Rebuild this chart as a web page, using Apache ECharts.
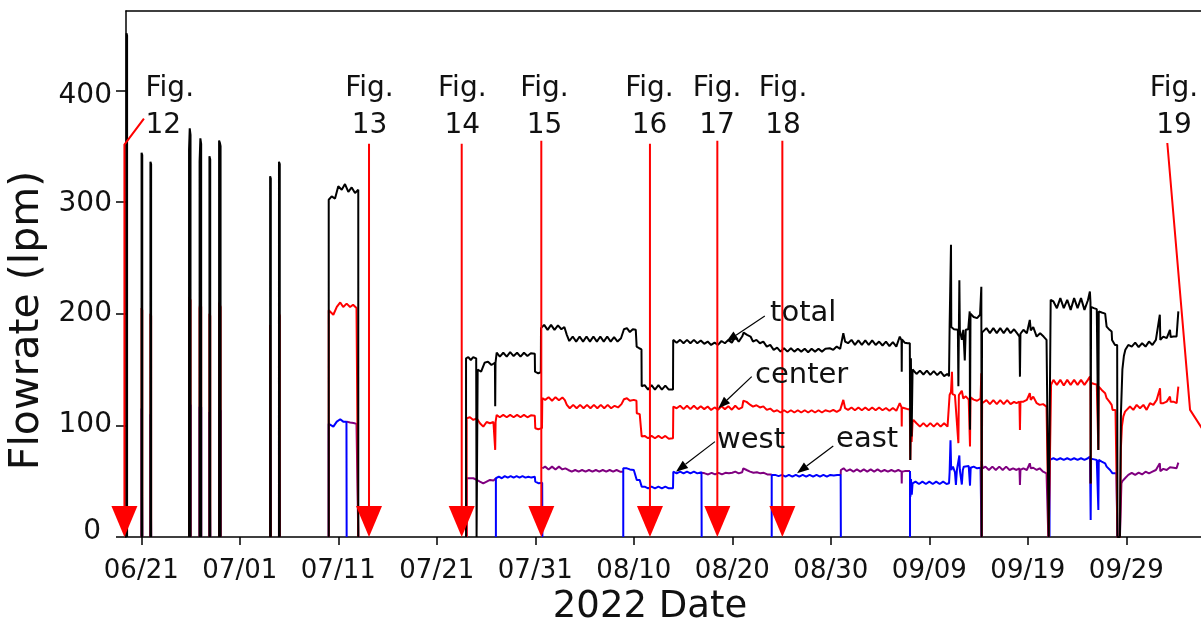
<!DOCTYPE html>
<html><head><meta charset="utf-8">
<script src="https://cdn.jsdelivr.net/npm/echarts@6/dist/echarts.min.js"></script>
<style>html,body{margin:0;padding:0;background:#fff}#chart{width:1201px;height:626px}</style>
</head><body><div id="chart"></div>
<script>
// x values are day-of-year 2022 (06/21 = 172)
const xTickDays = [172,182,192,202,212,222,232,242,252,262,272];
const xTickLabels = ['06/21','07/01','07/11','07/21','07/31','08/10','08/20','08/30','09/09','09/19','09/29'];
const yTicks = [0,100,200,300,400];

const totalFlow = [
  [170.5,0],[170.5,451],[170.56,449],[170.56,0],[170.6,null],
  [172.03,0],[172.03,344],[172.1,342],[172.1,0],[172.2,null],
  [172.93,0],[172.93,336],[173.0,334],[173.0,0],[173.1,null],
  [176.85,0],[176.85,347],[176.92,366],[177.0,360],[177.0,0],[177.1,null],
  [177.92,0],[177.92,336],[178.0,357],[178.08,352],[178.08,0],[178.2,null],
  [178.92,0],[178.92,341],[179.0,338],[179.0,0],[179.1,null],
  [179.9,0],[179.9,355],[179.98,353],[180.05,350],[180.05,0],[180.2,null],
  [185.08,0],[185.08,323],[185.15,321],[185.15,0],[185.3,null],
  [185.98,0],[185.98,336],[186.06,334],[186.06,0],[186.2,null],
  [191.03,0],[191.03,302],[191.33,305],[191.67,303],[192.0,314],[192.35,311],[192.68,316],[193.02,309],[193.36,313],[193.7,308],[194.03,311],[194.03,0],[194.1,null],
  [204.97,0],[204.97,160],[205.2,161],[205.45,158.5],[205.7,161],[206.0,160],[206.04,0],[206.12,0],[206.15,150],[206.5,148],[206.85,156],[207.2,157],[207.55,154],[207.9,156],[207.93,117],[207.96,156],
  [208.08,165],[208.4,161.5],[208.75,165],[209.1,161.5],[209.45,165.5],[209.8,162],[210.15,165],[210.5,161.5],[210.85,165],[211.2,162],[211.55,164.5],[211.95,164],
  [211.97,148],[212.3,146.6],[212.56,147.5],[212.58,187],[212.9,190],[213.25,185.5],[213.6,190],[213.95,185.5],[214.3,189.5],[214.65,186],[214.95,188],
  [215.2,181],[215.45,175.5],[215.8,179.5],[216.15,175],[216.5,179.5],[216.85,175],[217.2,179.5],[217.55,175],[217.9,179.5],[218.25,175],[218.6,179.5],[218.95,175],[219.3,179.5],[219.65,175],[220.0,179],[220.35,175],[220.7,178],
  [221.0,186],[221.3,187],[221.6,183.5],[221.9,186],[222.2,185.5],[222.29,170.5],[222.55,169],[222.78,168],
  [222.8,135],[223.1,136],[223.45,132],[223.8,136],[224.15,132],[224.5,136],[224.85,132],[225.2,135.5],[225.55,132],[225.98,132],
  [226.0,176.5],[226.35,174],[226.7,176.5],[227.05,173.5],[227.4,176.5],[227.75,173.5],[228.1,176.5],[228.45,173.5],[228.8,176],[229.15,173],[229.5,175],[229.85,172],[230.2,174],[230.55,172],[230.9,175.5],[231.25,173.5],[231.6,176.5],[231.95,174],[232.3,179],[232.65,175],[233.0,179.5],[233.15,183],[233.5,181],[233.85,179.5],[234.1,175],[234.45,176.5],[234.8,173.5],[235.15,175],[235.5,170.5],[235.85,172],
  [236.2,167.6],[236.55,169.5],[236.9,166],[237.25,169],[237.6,166],[237.95,169],[238.3,166],[238.65,168.5],[239.0,166],[239.35,168.5],[239.7,165.5],[240.05,168.5],[240.4,166],[240.75,168.5],[241.1,166],[241.45,168.5],[241.9,169],[242.25,167.6],[242.6,170.5],[242.95,168.5],
  [243.27,182.5],[243.45,175],[243.75,173.5],[244.1,176.5],[244.45,172],[244.8,176],[245.15,172],[245.5,176],[245.85,172],[246.2,176],[246.55,172],[246.9,175],[247.25,171.5],[247.6,175],[247.95,171],[248.3,174.5],[248.65,170.5],[249.0,179.5],[249.18,176],[249.2,148],[249.22,177],[249.5,174],[249.8,173.5],[250.02,173.5],
  [250.07,69],[250.13,160],[250.2,90],[250.3,150],[250.38,149.6],[250.7,146],[251.05,149],[251.4,145.5],[251.75,149],[252.1,145.2],[252.45,148.5],[252.8,145],[253.15,148],[253.5,144],[253.85,146],[254.0,144],
  [254.06,188],[254.18,188],[254.2,261.6],[254.23,188],[254.5,186],[254.9,185.5],[254.95,135],[255.0,185],[255.05,230],[255.1,185],[255.3,176.5],[255.45,185.5],[255.6,158],[255.7,185.5],[255.95,186],[256.1,202],[256.13,96],[256.18,200],[256.5,197],[256.85,196],[257.15,199],[257.28,224],[257.31,0],
  [257.35,183],[257.5,182.5],[257.8,187],[258.15,182.5],[258.5,187],[258.85,182.5],[259.2,187],[259.55,182.5],[259.9,187],[260.25,182.5],[260.6,186],[260.9,182.5],[261.15,179.5],[261.2,143.6],[261.25,182],[261.55,185.5],[261.9,182.5],[262.2,194.4],[262.3,185],[262.55,188],[262.9,179.5],[263.25,182.5],[263.6,179.5],[263.9,176.5],[264.08,176],[264.12,0],[264.28,0],
  [264.32,212.4],[264.6,210.9],[264.95,204.9],[265.3,213.9],[265.65,204.9],[266.0,212.4],[266.35,203.4],[266.7,213.9],[267.05,204.9],[267.4,213.9],[267.75,203.4],[268.1,212],[268.3,219.8],[268.36,210],[268.38,48],[268.42,206],[268.7,205],[269.0,204],[269.14,203],[269.16,78],[269.2,202],[269.5,201],[269.85,200],
  [270.0,188.4],[270.3,185.5],[270.51,184],[270.55,176.5],[270.85,172],[271.07,172],[271.1,0],[271.35,0],
  [271.45,110],[271.6,150],[271.75,162],[271.9,167.6],[272.2,172],[272.55,170.5],[272.9,174],[273.25,170],[273.6,173.5],[273.95,170.5],[274.3,175],[274.65,172],[275.0,176.5],[275.4,199],[275.45,176.5],[275.75,179.5],[276.1,178],[276.43,185.5],[276.5,179],[276.8,179.5],[277.1,179.5],[277.28,202]
];

const centerFlow = [
  [172.03,0],[172.03,205],[172.1,203],[172.1,0],[172.2,null],
  [172.93,0],[172.93,200],[173.0,198],[173.0,0],[173.1,null],
  [176.85,0],[176.85,215],[176.92,214],[177.0,212],[177.0,0],[177.1,null],
  [177.92,0],[177.92,205],[178.0,210],[178.08,206],[178.08,0],[178.2,null],
  [178.92,0],[178.92,200],[179.0,198],[179.0,0],[179.1,null],
  [179.9,0],[179.9,210],[179.98,208],[180.05,206],[180.05,0],[180.2,null],
  [185.08,0],[185.08,190],[185.15,189],[185.15,0],[185.3,null],
  [185.98,0],[185.98,200],[186.06,198],[186.06,0],[186.2,null],
  [191.03,0],[191.03,203],[191.5,199],[191.85,206],[192.2,210],[192.5,206],[192.85,209],[193.2,206],[193.5,208],[193.85,205],[194.03,206],[194.03,0],[194.1,null],
  [205.03,0],[205.03,106.3],[205.37,107.2],[205.71,104.8],[206.05,106.3],[206.38,101.9],[206.72,98.8],[207.06,103],[207.4,101.9],[207.75,103],[207.93,78],[207.97,103],
  [208.08,109.3],[208.4,107.2],[208.75,109.3],[209.1,107.2],[209.45,109.3],[209.8,107.2],[210.15,109.3],[210.5,107.2],[210.85,109.3],[211.2,107.2],[211.55,109],[211.95,108.5],
  [212.0,97.4],[212.3,96.5],[212.68,97.5],[212.71,124.3],[213.0,122.8],[213.35,125.2],[213.7,122],[214.05,125.2],[214.4,122.5],[214.75,125],[215.0,122.5],
  [215.2,118.3],[215.5,115.3],[215.85,118.3],[216.2,115.3],[216.55,118.3],[216.9,115.3],[217.25,118.3],[217.6,115.3],[217.95,118.3],[218.3,115.3],[218.65,118.3],[219.0,115.3],[219.35,118.3],[219.7,115.3],[220.05,117.5],[220.4,116],[220.75,119],
  [221.0,123.4],[221.3,124.3],[221.6,122],[222.0,122.8],[222.27,122],[222.3,110.8],[222.6,110],[222.78,110],
  [222.8,90],[223.1,90.5],[223.45,88.4],[223.8,90.5],[224.15,88.4],[224.5,90.5],[224.85,88.4],[225.2,90.5],[225.55,88],[225.98,88.4],
  [226.01,116.8],[226.35,115.3],[226.7,117.5],[227.05,114.5],[227.4,117.5],[227.75,114.5],[228.1,117.5],[228.45,114.5],[228.8,117],[229.15,114.5],[229.5,116.8],[229.85,113.8],[230.2,116],[230.55,114],[230.9,117],[231.25,114.5],[231.6,117],[231.95,114],[232.3,117.5],[232.65,114.5],[233.0,116],
  [233.12,122],[233.45,121],[233.8,118.5],[234.1,116.8],[234.45,118],[234.8,116],[235.15,117],[235.5,113.8],[235.85,115],
  [236.2,112.3],[236.55,113.5],[236.9,111.5],[237.25,113.5],[237.6,111.5],[237.95,113.5],[238.3,111.5],[238.65,113.5],[239.0,111.5],[239.35,113.5],[239.7,111.5],[240.05,113.5],[240.4,111.5],[240.75,113.5],[241.1,111.5],[241.45,113.5],[241.9,112.3],[242.25,113.8],[242.6,112],[242.95,113.8],
  [243.27,122.8],[243.45,115.3],[243.75,113.8],[244.1,116],[244.45,113.5],[244.8,116],[245.15,113.5],[245.5,116],[245.85,113.5],[246.2,116],[246.55,113.5],[246.9,116],[247.25,113.5],[247.6,115.5],[247.95,113],[248.3,115.5],[248.65,113],[249.0,119.8],[249.18,116],[249.2,99],[249.22,116],[249.5,115.3],[249.8,114.5],[250.02,114.5],
  [250.07,69],[250.13,104.8],[250.2,85],[250.3,103],[250.38,104.8],[250.7,101.9],[251.05,98.8],[251.4,102],[251.75,98.8],[252.1,102],[252.45,98.8],[252.8,102],[253.15,98.8],[253.5,101.9],[253.85,98.8],[254.0,98.8],
  [254.06,127.2],[254.2,130],[254.3,148],[254.35,128],[254.6,127],[254.95,84],[255.0,127],[255.3,131],[255.45,124],[255.7,126],[256.0,123],[256.13,81],[256.18,125],[256.5,123],[256.85,122],[257.2,124],[257.28,146.6],[257.31,0],
  [257.36,119.8],[257.5,120],[257.8,122.5],[258.15,119],[258.5,122.5],[258.85,119],[259.2,122.5],[259.55,119],[259.9,122.5],[260.25,119],[260.6,121],[260.85,119.8],[261.15,121.2],[261.2,95.9],[261.25,121],[261.55,121.2],[261.9,122.8],[262.2,128.8],[262.3,122.8],[262.55,125.7],[262.9,119.8],[263.2,118.3],[263.55,119],[263.9,116.8],[264.08,116.8],[264.12,0],[264.3,0],
  [264.36,136.2],[264.6,140.7],[264.95,136.2],[265.3,140.7],[265.65,135.6],[266.0,140.7],[266.35,136.2],[266.7,140.7],[267.05,136.2],[267.4,140.7],[267.75,136.2],[268.1,140.7],[268.31,143.6],[268.36,140],[268.38,48],[268.42,138],[268.75,137],[269.0,136.5],[269.14,136],[269.16,78],[269.2,134.5],[269.5,131.7],[269.85,128.8],
  [270.0,124.3],[270.3,121],[270.51,118.3],[270.6,113.8],[270.9,113.8],[271.07,113.8],[271.1,0],[271.35,0],
  [271.45,80],[271.55,99],[271.7,108],[271.87,112.3],[272.03,112.3],[272.37,116.8],[272.71,113.8],[273.05,118.3],[273.39,115.3],[273.73,118.3],[274.06,113.8],[274.4,119.8],[274.74,118.3],[275.08,122.8],[275.42,133.2],[275.48,119.8],[275.76,119.8],[276.1,121.2],[276.43,125.7],[276.5,121],[276.77,121.2],[277.11,119.8],[277.28,134.7]
];

const westFlow = [
  [172.03,0],[172.03,115],[172.1,114],[172.1,0],[172.2,null],
  [172.93,0],[172.93,110],[173.0,109],[173.0,0],[173.1,null],
  [176.85,0],[176.85,120],[176.92,119],[177.0,118],[177.0,0],[177.1,null],
  [177.92,0],[177.92,116],[178.0,118],[178.08,116],[178.08,0],[178.2,null],
  [178.92,0],[178.92,112],[179.0,111],[179.0,0],[179.1,null],
  [179.9,0],[179.9,115],[179.98,114],[180.05,113],[180.05,0],[180.2,null],
  [185.08,0],[185.08,105],[185.15,104],[185.15,0],[185.3,null],
  [185.98,0],[185.98,110],[186.06,109],[186.06,0],[186.2,null],
  [191.03,0],[191.03,101.3],[191.5,98.8],[191.85,103.3],[192.2,105.4],[192.5,103.3],[192.83,103.3],[192.85,0],[192.9,null],
  [208.0,0],[208.0,52.6],[208.3,54],[208.6,52.6],[208.9,54.5],[209.2,53.2],[209.5,54.5],[209.8,53.2],[210.1,54.5],[210.4,53.2],[210.7,54.5],[211.0,53.2],[211.3,54],[211.6,53.2],[211.95,54],[212.0,49.6],[212.35,48.1],[212.7,48.5],[212.72,0],[212.8,null],
  [220.93,0],[220.93,61.5],[221.3,61.5],[221.6,60.5],[222.0,60],[222.3,51.1],[222.6,51],[222.8,45.1],[223.1,45.1],[223.45,43.6],[223.8,45.1],[224.15,43.6],[224.5,45.1],[224.85,43.6],[225.2,45.1],[225.55,43.6],[225.98,43.6],
  [226.01,58.5],[226.35,57],[226.7,58.5],[227.05,57],[227.4,58.5],[227.75,57],[228.1,58.5],[228.45,57],[228.87,58],[228.89,0],[229.0,null],
  [236.0,0],[236.0,55.6],[236.35,55.6],[236.7,54.5],[237.05,55.6],[237.4,54],[237.75,55.6],[238.1,54],[238.45,55.6],[238.8,54],[239.15,55.6],[239.5,54],[239.85,55.6],[240.2,54],[240.55,55.6],[240.9,54],[241.25,55.6],[241.6,54],[241.95,55.6],[242.3,55],[242.65,55.6],[243.0,55.6],[243.02,0],[243.1,null],
  [250.04,0],[250.04,59],[250.08,36],[250.14,52],[250.22,38],[250.3,48.1],[250.6,49.6],[250.95,47.5],[251.3,49.6],[251.65,47.5],[252.0,49.6],[252.35,47.5],[252.7,49.6],[253.05,47.5],[253.4,49.6],[253.75,47.5],[254.0,48.1],
  [254.06,58],[254.15,86.6],[254.22,60],[254.4,63],[254.6,58],[254.7,46.6],[254.8,60],[255.05,73],[255.1,60],[255.3,47],[255.4,60],[255.5,63],[255.7,62],[256.0,63.5],[256.13,46],[256.2,62],[256.5,63],[256.85,61.5],[257.2,62],[257.3,0],[257.35,null],
  [264.2,0],[264.22,69],[264.6,70.5],[264.95,69],[265.3,70.5],[265.65,69],[266.0,70.5],[266.35,69],[266.7,70.5],[267.05,69],[267.4,70.5],[267.75,69],[268.1,70.5],[268.31,72],[268.36,72],[268.38,15.2],[268.42,70],[268.75,69.5],[269.0,69],[269.14,69],[269.16,24.2],[269.2,69],[269.5,67.5],[269.85,66],
  [270.0,63],[270.35,60],[270.6,57],[271.0,57],[271.07,57],[271.09,0]
];

const eastFlow = [
  [192.85,103.3],[193.2,102.5],[193.55,102],[193.85,101.3],[194.03,101.3],[194.03,0],[194.1,null],
  [205.03,0],[205.03,52.6],[205.37,52.6],[205.71,52.6],[206.05,51.1],[206.38,49.6],[206.72,48.1],[207.06,49.6],[207.4,51.1],[207.75,50.5],[208.0,52.6],[208.05,null],
  [212.71,61.5],[213.0,63],[213.35,60.5],[213.7,63],[214.05,60.5],[214.4,63],[214.75,60.5],[215.05,61.5],[215.35,60],[215.7,58.5],[216.05,60],[216.4,58.5],[216.75,60],[217.1,58.5],[217.45,60],[217.8,58.5],[218.15,60],[218.5,58.5],[218.85,60],[219.2,58.5],[219.55,60],[219.9,58.5],[220.25,60],[220.6,58.5],[220.93,58.5],[221.0,null],
  [228.89,57.5],[229.2,57],[229.55,56],[229.9,57.5],[230.25,56],[230.6,57.5],[230.95,56],[231.3,57.5],[231.65,57],[232.0,57.5],[232.3,58.5],[232.65,57],[233.0,58],[233.12,61.5],[233.45,60],[233.8,58.5],[234.15,57.5],[234.5,58],[234.85,57],[235.2,57.5],[235.55,56],[236.0,56],[236.05,null],
  [243.0,55.6],[243.02,60],[243.3,61.5],[243.6,59],[243.95,60.5],[244.3,58.5],[244.65,60.5],[245.0,58.5],[245.35,60.5],[245.7,58.5],[246.05,60.5],[246.4,58.5],[246.75,60.5],[247.1,58.5],[247.45,60],[247.8,58.5],[248.15,60],[248.5,58.5],[248.85,60],[249.18,58.5],[249.2,48],[249.22,58.5],[249.5,59],[249.8,59],[250.04,59],[250.1,null],
  [257.32,0],[257.32,68],[257.4,61.5],[257.7,63],[258.05,60],[258.4,63],[258.75,60],[259.1,63],[259.45,60],[259.8,63],[260.15,60],[260.5,61.5],[260.85,60],[261.15,61.5],[261.2,46.6],[261.25,60],[261.55,61.5],[261.9,60],[262.2,66],[262.3,61.5],[262.55,62],[262.9,60],[263.2,61.5],[263.55,58.5],[263.9,57],[264.08,57],[264.08,0],[264.15,null],
  [271.35,0],[271.5,48],[271.6,50],[271.87,52.6],[272.2,55.6],[272.55,57.5],[272.9,55.6],[273.25,57.7],[273.6,56],[273.95,58.5],[274.3,57],[274.65,58.5],[275.0,60],[275.4,66],[275.45,59],[275.75,61],[276.1,60],[276.43,62.5],[276.5,61],[276.8,62],[277.1,61.5],[277.28,66.6]
];

// "Fig. N" annotations: label anchor (day, value), arrow path ending at the arrow tip
const figNames = ['12','13','14','15','16','17','18','19'];
const figLabelDays = [172.43,195.17,204.59,212.93,223.59,230.45,237.15,276.84];
const figLabelValue = 385;
const figAlign = ['left','center','center','center','center','center','center','center'];
const figPaths = [
  [[172.27,374.6],[170.29,351.3],[170.29,0]],
  [[195.12,352.2],[195.12,0]],
  [[204.53,352.2],[204.53,0]],
  [[212.61,354.8],[212.61,0]],
  [[223.64,352.2],[223.64,0]],
  [[230.48,354.8],[230.48,0]],
  [[237.08,354.8],[237.08,0]],
  [[276.16,352.8],[278.47,113.8],[286.8,0]]
];

// zone labels with black arrows
const zoneNames = ['total','center','west','east'];
const zoneTextPos = [[235.83,200.5],[234.3,145],[230.45,86.7],[242.53,87.6]];
const zoneArrowTail = [[235.3,198],[233.97,143.6],[230.24,85.4],[242.25,81.5]];
const zoneArrowTip = [[231.36,174.7],[230.58,115.3],[226.28,58.5],[238.57,57.1]];

const FONT = '"DejaVu Sans", Verdana, sans-serif';
const X_MIN = 170.45, X_MAX = 279.58, Y_MAX = 471;

function arrowParts(pts, headLen, headHalf) {
  const n = pts.length, tip = pts[n-1], prev = pts[n-2];
  const dx = tip[0]-prev[0], dy = tip[1]-prev[1];
  const L = Math.hypot(dx, dy) || 1, ux = dx/L, uy = dy/L;
  const base = [tip[0]-ux*headLen, tip[1]-uy*headLen];
  const left = [base[0]-uy*headHalf, base[1]+ux*headHalf];
  const right = [base[0]+uy*headHalf, base[1]-ux*headHalf];
  return {shaft: pts.slice(0, n-1).concat([base]), head: [tip, left, right]};
}

function renderFig(params, api) {
  const i = params.dataIndex;
  const pts = figPaths[i].map(p => api.coord(p));
  const a = arrowParts(pts, 31, 13);
  const lbl = api.coord([figLabelDays[i], figLabelValue]);
  return {type:'group', children:[
    {type:'polyline', shape:{points:a.shaft}, style:{stroke:'#ff0000', lineWidth:2, fill:null}},
    {type:'polygon', shape:{points:a.head}, style:{fill:'#ff0000'}},
    {type:'text', x:lbl[0], y:lbl[1], style:{text:'Fig.\n'+figNames[i], font:'28px '+FONT, fill:'#111', align:figAlign[i], verticalAlign:'middle', lineHeight:37}}
  ]};
}

function renderZone(params, api) {
  const i = params.dataIndex;
  const pts = [api.coord(zoneArrowTail[i]), api.coord(zoneArrowTip[i])];
  const a = arrowParts(pts, 12, 4.5);
  const t = api.coord(zoneTextPos[i]);
  return {type:'group', children:[
    {type:'polyline', shape:{points:a.shaft}, style:{stroke:'#000', lineWidth:1.2, fill:null}},
    {type:'polygon', shape:{points:a.head}, style:{fill:'#000'}},
    {type:'text', x:t[0], y:t[1], style:{text:zoneNames[i], font:'29px '+FONT, fill:'#111', align:'left', verticalAlign:'middle'}}
  ]};
}

// small per-label offsets seen in the reference tick labels
const yRich = {};
const yLabelShift = {0:-5, 100:-1, 200:0, 300:2, 400:5};
const yLabelRightPad = {0:11};
yTicks.forEach(v => {
  const s = yLabelShift[v] || 0, r = yLabelRightPad[v] || 0;
  yRich['t' + v] = {fontFamily:FONT, fontSize:28, color:'#111',
    padding: s >= 0 ? [2*s,r,0,0] : [0,r,-2*s,0]};
});

const chart = echarts.init(document.getElementById('chart'), null, {renderer:'canvas'});
const lineBase = {type:'line', showSymbol:false, symbol:'none', connectNulls:false, sampling:null, animation:false, lineStyle:{width:2}};
chart.setOption({
  animation:false,
  backgroundColor:'#fff',
  grid:{left:126, right:0, top:11, bottom:89, containLabel:false, outerBoundsMode:'none'},
  xAxis:[{
    type:'value', min:X_MIN, max:X_MAX, position:'bottom',
    name:'2022 Date', nameLocation:'middle', nameGap:52,
    nameTextStyle:{fontFamily:FONT, fontSize:37, color:'#111', padding:[0,27,0,0]},
    axisLine:{show:true, onZero:false, lineStyle:{color:'#000', width:1.5}},
    axisTick:{show:true, inside:false, length:8, customValues:xTickDays, lineStyle:{color:'#000', width:1.5}},
    axisLabel:{show:true, customValues:xTickDays, margin:21, fontFamily:FONT, fontSize:26, color:'#111',
      formatter:v => { const k = xTickDays.indexOf(Math.round(v)); return k >= 0 ? xTickLabels[k] : ''; }},
    splitLine:{show:false}
  },{
    type:'value', min:X_MIN, max:X_MAX, position:'top',
    axisLine:{show:true, onZero:false, lineStyle:{color:'#000', width:1.5}},
    axisTick:{show:false}, axisLabel:{show:false}, splitLine:{show:false}
  }],
  yAxis:{
    type:'value', min:0, max:Y_MAX, interval:100,
    name:'Flowrate (lpm)', nameLocation:'middle', nameRotate:90, nameGap:73,
    nameTextStyle:{fontFamily:FONT, fontSize:41, color:'#111', padding:[0,93,0,0]},
    axisLine:{show:true, lineStyle:{color:'#000', width:1.5}},
    axisTick:{show:true, inside:false, length:10, customValues:yTicks, lineStyle:{color:'#000', width:1.5}},
    axisLabel:{show:true, customValues:yTicks, margin:14, fontFamily:FONT, fontSize:28, color:'#111',
      formatter:v => '{t' + Math.round(v) + '|' + Math.round(v) + '}', rich:yRich},
    splitLine:{show:false}
  },
  series:[
    Object.assign({}, lineBase, {name:'east', data:eastFlow, z:2, color:'#800080', lineStyle:{width:2, color:'#800080'}}),
    Object.assign({}, lineBase, {name:'west', data:westFlow, z:3, color:'#0000ff', lineStyle:{width:2, color:'#0000ff'}}),
    Object.assign({}, lineBase, {name:'center', data:centerFlow, z:4, color:'#ff0000', lineStyle:{width:2, color:'#ff0000'}}),
    Object.assign({}, lineBase, {name:'total', data:totalFlow, z:5, color:'#000000', lineStyle:{width:2, color:'#000000'}}),
    {type:'custom', name:'figs', renderItem:renderFig, clip:false, z:10, silent:true, animation:false,
      data:figNames.map((n,i) => [figLabelDays[i], figLabelValue]), encode:{x:0, y:1}},
    {type:'custom', name:'zones', renderItem:renderZone, clip:false, z:11, silent:true, animation:false,
      data:zoneNames.map((n,i) => [zoneTextPos[i][0], zoneTextPos[i][1]]), encode:{x:0, y:1}}
  ]
});
</script>
</body></html>
